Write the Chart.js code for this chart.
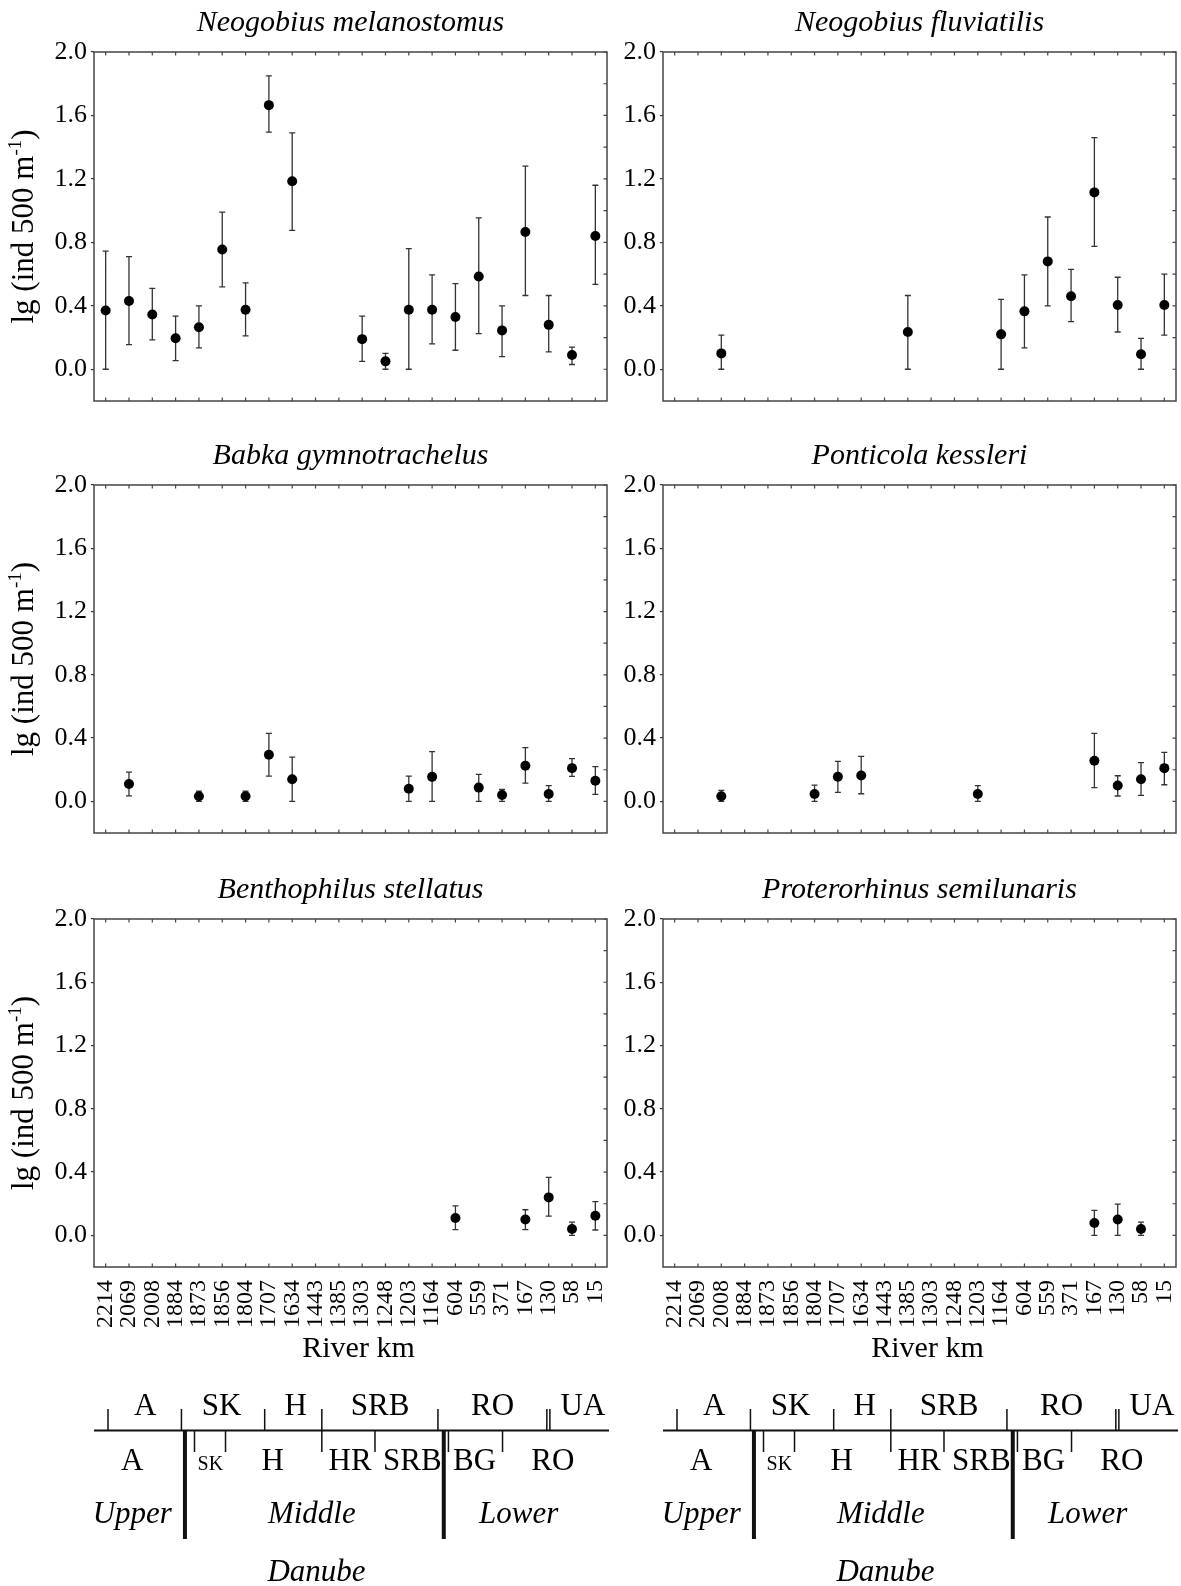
<!DOCTYPE html>
<html>
<head>
<meta charset="utf-8">
<script src="https://cdn.jsdelivr.net/npm/chart.js@4.4.1/dist/chart.umd.min.js"></script>
<style>
html, body { margin: 0; padding: 0; background: #fff; }
#wrap { position: relative; width: 1181px; height: 1586px; }
canvas { position: absolute; }
</style>
</head>
<body>
<div id="wrap">
  <canvas id="c0" width="620" height="430" style="left:0;top:0"></canvas>
  <canvas id="c1" width="561" height="430" style="left:620px;top:0"></canvas>
  <canvas id="c2" width="620" height="430" style="left:0;top:430px"></canvas>
  <canvas id="c3" width="561" height="430" style="left:620px;top:430px"></canvas>
  <canvas id="c4" width="620" height="726" style="left:0;top:860px"></canvas>
  <canvas id="c5" width="561" height="726" style="left:620px;top:860px"></canvas>
</div>
<script>
// ---------- DATA ----------
const riverKm = ["2214", "2069", "2008", "1884", "1873", "1856", "1804", "1707", "1634", "1443", "1385",
                 "1303", "1248", "1203", "1164", "604", "559", "371", "167", "130", "58", "15"];
const yTicks = [0.0, 0.4, 0.8, 1.2, 1.6, 2.0];
const yMinorTicks = [0.0, 0.2, 0.4, 0.6, 0.8, 1.0, 1.2, 1.4, 1.6, 1.8, 2.0];

// Neogobius melanostomus
const nmMean = [0.37, 0.43, 0.345, 0.195, 0.265, 0.755, 0.375, 1.665, 1.185, null, null,
                0.19, 0.05, 0.375, 0.375, 0.33, 0.585, 0.245, 0.865, 0.28, 0.09, 0.84];
const nmLow  = [0.00, 0.155, 0.185, 0.055, 0.135, 0.52, 0.21, 1.495, 0.875, null, null,
                0.05, 0.00, 0.00, 0.16, 0.12, 0.225, 0.08, 0.465, 0.11, 0.03, 0.535];
const nmHigh = [0.745, 0.71, 0.51, 0.335, 0.40, 0.99, 0.545, 1.85, 1.49, null, null,
                0.335, 0.10, 0.76, 0.595, 0.54, 0.955, 0.40, 1.28, 0.465, 0.14, 1.16];

// Neogobius fluviatilis
const nfMean = [null, null, 0.10, null, null, null, null, null, null, null, 0.235,
                null, null, null, 0.22, 0.365, 0.68, 0.46, 1.115, 0.405, 0.095, 0.405];
const nfLow  = [null, null, 0.00, null, null, null, null, null, null, null, 0.00,
                null, null, null, 0.00, 0.135, 0.40, 0.30, 0.775, 0.235, 0.00, 0.215];
const nfHigh = [null, null, 0.215, null, null, null, null, null, null, null, 0.465,
                null, null, null, 0.44, 0.595, 0.96, 0.63, 1.46, 0.58, 0.195, 0.60];

// Babka gymnotrachelus
const bgMean = [null, 0.11, null, null, 0.032, null, 0.032, 0.295, 0.14, null, null,
                null, null, 0.08, 0.155, null, 0.087, 0.04, 0.225, 0.046, 0.21, 0.13];
const bgLow  = [null, 0.035, null, null, 0.00, null, 0.00, 0.16, 0.00, null, null,
                null, null, 0.00, 0.00, null, 0.00, 0.00, 0.115, 0.00, 0.158, 0.044];
const bgHigh = [null, 0.185, null, null, 0.065, null, 0.065, 0.43, 0.28, null, null,
                null, null, 0.16, 0.315, null, 0.17, 0.075, 0.34, 0.10, 0.27, 0.22];

// Ponticola kessleri
const pkMean = [null, null, 0.032, null, null, null, 0.046, 0.156, 0.164, null, null,
                null, null, 0.046, null, null, null, null, 0.257, 0.10, 0.14, 0.21];
const pkLow  = [null, null, 0.00, null, null, null, 0.00, 0.057, 0.048, null, null,
                null, null, 0.00, null, null, null, null, 0.087, 0.034, 0.038, 0.105];
const pkHigh = [null, null, 0.07, null, null, null, 0.103, 0.253, 0.285, null, null,
                null, null, 0.10, null, null, null, null, 0.43, 0.162, 0.245, 0.31];

// Benthophilus stellatus
const bsMean = [null, null, null, null, null, null, null, null, null, null, null,
                null, null, null, null, 0.11, null, null, 0.10, 0.24, 0.04, 0.124];
const bsLow  = [null, null, null, null, null, null, null, null, null, null, null,
                null, null, null, null, 0.036, null, null, 0.036, 0.122, 0.00, 0.034];
const bsHigh = [null, null, null, null, null, null, null, null, null, null, null,
                null, null, null, null, 0.187, null, null, 0.162, 0.366, 0.084, 0.213];

// Proterorhinus semilunaris
const psMean = [null, null, null, null, null, null, null, null, null, null, null,
                null, null, null, null, null, null, null, 0.078, 0.10, 0.04, null];
const psLow  = [null, null, null, null, null, null, null, null, null, null, null,
                null, null, null, null, null, null, null, 0.00, 0.00, 0.00, null];
const psHigh = [null, null, null, null, null, null, null, null, null, null, null,
                null, null, null, null, null, null, null, 0.158, 0.198, 0.084, null];

// ---------- DANUBE STRIP (positions in river-km category units) ----------
const stripTopTicks = [0.10, 3.25, 6.82, 14.25, 18.92, 19.05];
const stripBottomTicks = [3.81, 5.14, 11.55, 14.70, 17.02];
const stripCrossTicks = [9.27];
const stripThick = [3.40, 14.50];
const stripTopLabels = [["A", 1.70], ["SK", 4.97], ["H", 8.15], ["SRB", 11.77], ["RO", 16.59], ["UA", 20.47]];
const stripBottomLabels = [["A", 1.14], ["SK", 4.49], ["H", 7.16], ["HR", 10.48], ["SRB", 13.15], ["BG", 15.82], ["RO", 19.18]];
const stripSections = [["Upper", 1.14], ["Middle", 8.84], ["Lower", 17.71]];

const SERIF = '"Liberation Serif", "Times New Roman", serif';

function drawYLabel(ctx, baseX, cy) {
  const p1 = "lg (ind 500 m", p2 = "-1", p3 = ")";
  const big = "31px " + SERIF, small = "19px " + SERIF;
  ctx.save();
  ctx.translate(baseX, cy);
  ctx.rotate(-Math.PI / 2);
  ctx.fillStyle = "#000";
  ctx.textAlign = "left";
  ctx.textBaseline = "alphabetic";
  ctx.font = big;
  const w1 = ctx.measureText(p1).width, w3 = ctx.measureText(p3).width;
  ctx.font = small;
  const w2 = ctx.measureText(p2).width;
  let x = -(w1 + w2 + w3) / 2;
  ctx.font = big; ctx.fillText(p1, x, 0); x += w1;
  ctx.font = small; ctx.fillText(p2, x, -12); x += w2;
  ctx.font = big; ctx.fillText(p3, x, 0);
  ctx.restore();
}

function drawStrip(ctx, xs, area) {
  const B = area.bottom;
  const px = v => xs.getPixelForValue(v);
  const lineY = B + 163.5;
  ctx.save();
  ctx.strokeStyle = "#111";
  ctx.fillStyle = "#000";
  ctx.lineWidth = 2;
  ctx.beginPath();
  ctx.moveTo(area.left, lineY); ctx.lineTo(area.right + 2, lineY);
  ctx.stroke();
  ctx.lineWidth = 1.5;
  ctx.beginPath();
  stripTopTicks.forEach(v => { ctx.moveTo(px(v), B + 142); ctx.lineTo(px(v), lineY); });
  stripBottomTicks.forEach(v => { ctx.moveTo(px(v), lineY); ctx.lineTo(px(v), B + 185); });
  stripCrossTicks.forEach(v => { ctx.moveTo(px(v), B + 142); ctx.lineTo(px(v), B + 185); });
  ctx.stroke();
  ctx.lineWidth = 4;
  ctx.beginPath();
  stripThick.forEach(v => { ctx.moveTo(px(v), lineY); ctx.lineTo(px(v), B + 272); });
  ctx.stroke();

  ctx.textAlign = "center";
  ctx.textBaseline = "alphabetic";
  ctx.font = "31px " + SERIF;
  stripTopLabels.forEach(([t, v]) => ctx.fillText(t, px(v), B + 148));
  stripBottomLabels.forEach(([t, v]) => {
    ctx.font = (t === "SK" ? "20px " : "31px ") + SERIF;
    ctx.fillText(t, px(v), B + 203);
  });
  ctx.font = "italic 31px " + SERIF;
  stripSections.forEach(([t, v]) => ctx.fillText(t, px(v), B + 256));
  ctx.fillText("Danube", (area.left + area.right) / 2 - 34, B + 314);
  ctx.restore();
}

// error bars, frame, inward ticks and all free text
const panelPlugin = {
  id: "panel",
  beforeDatasetsDraw(chart, args, opts) {
    const { ctx } = chart;
    const ys = chart.scales.y;
    const meta = chart.getDatasetMeta(0);
    ctx.save();
    ctx.strokeStyle = "#333";
    ctx.lineWidth = 1.3;
    ctx.beginPath();
    meta.data.forEach((pt, i) => {
      if (opts.low[i] == null) return;
      const x = pt.x, y1 = ys.getPixelForValue(opts.low[i]), y2 = ys.getPixelForValue(opts.high[i]);
      ctx.moveTo(x, y1); ctx.lineTo(x, y2);
      ctx.moveTo(x - 3, y1); ctx.lineTo(x + 3, y1);
      ctx.moveTo(x - 3, y2); ctx.lineTo(x + 3, y2);
    });
    ctx.stroke();
    ctx.restore();
  },
  afterDraw(chart, args, opts) {
    const { ctx, chartArea: a } = chart;
    const xs = chart.scales.x, ys = chart.scales.y;
    ctx.save();
    ctx.strokeStyle = "#444";
    ctx.lineWidth = 1.5;
    ctx.strokeRect(a.left, a.top, a.right - a.left, a.bottom - a.top);
    ctx.lineWidth = 1.2;
    ctx.beginPath();
    riverKm.forEach((k, i) => {
      const x = xs.getPixelForValue(i);
      ctx.moveTo(x, a.top); ctx.lineTo(x, a.top + 3.5);
      ctx.moveTo(x, a.bottom); ctx.lineTo(x, a.bottom - 3.5);
    });
    yMinorTicks.forEach(v => {
      const y = ys.getPixelForValue(v);
      ctx.moveTo(a.right, y); ctx.lineTo(a.right - 3.5, y);
    });
    ctx.stroke();

    ctx.fillStyle = "#000";
    ctx.textAlign = "center";
    ctx.textBaseline = "alphabetic";
    ctx.font = "italic 30px " + SERIF;
    ctx.fillText(opts.title, (a.left + a.right) / 2, a.top - 21);
    if (opts.yLabel) drawYLabel(ctx, 33, (a.top + a.bottom) / 2);
    if (opts.strip) {
      ctx.font = "30px " + SERIF;
      ctx.fillText("River km", (a.left + a.right) / 2 + 8, a.bottom + 90);
      drawStrip(ctx, xs, a);
    }
    ctx.restore();
  }
};

function makePanel(id, title, mean, low, high, col, row) {
  const yW = col === 0 ? 94 : 43;
  const padR = col === 0 ? 13 : 4;
  const padT = [52, 55, 59][row];
  const xH = [29, 27, 319][row];
  const bottomRow = row === 2;
  new Chart(document.getElementById(id), {
    type: "line",
    data: {
      labels: riverKm,
      datasets: [{
        data: mean,
        showLine: false,
        pointRadius: 5,
        pointHoverRadius: 5,
        pointBackgroundColor: "#000",
        pointBorderColor: "#000",
        pointBorderWidth: 0
      }]
    },
    options: {
      responsive: false,
      animation: false,
      devicePixelRatio: 1,
      layout: { padding: { top: padT, left: 0, right: padR, bottom: 0 } },
      plugins: {
        legend: { display: false },
        tooltip: { enabled: false },
        panel: { title, low, high, yLabel: col === 0, strip: bottomRow }
      },
      scales: {
        x: {
          type: "category",
          offset: true,
          grid: { display: false },
          border: { display: false },
          ticks: {
            display: bottomRow,
            autoSkip: false,
            minRotation: 90,
            maxRotation: 90,
            padding: 5,
            color: "#000",
            font: { family: SERIF, size: 24 }
          },
          afterFit: s => {
            s.height = xH;
            s.paddingLeft = 0;
            s.paddingRight = 0;
          }
        },
        y: {
          type: "linear",
          min: -0.2,
          max: 2.0,
          afterBuildTicks: s => { s.ticks = yTicks.map(v => ({ value: v })); },
          grid: { display: true, drawOnChartArea: false, drawTicks: true, tickLength: 3, color: "#333", lineWidth: 1.2 },
          border: { display: false },
          ticks: {
            padding: 4,
            color: "#000",
            font: { family: SERIF, size: 26 },
            callback: v => Number(v).toFixed(1)
          },
          afterFit: s => {
            s.width = yW;
            s.paddingTop = 0;
            s.paddingBottom = 0;
          }
        }
      }
    },
    plugins: [panelPlugin]
  });
}

makePanel("c0", "Neogobius melanostomus", nmMean, nmLow, nmHigh, 0, 0);
makePanel("c1", "Neogobius fluviatilis", nfMean, nfLow, nfHigh, 1, 0);
makePanel("c2", "Babka gymnotrachelus", bgMean, bgLow, bgHigh, 0, 1);
makePanel("c3", "Ponticola kessleri", pkMean, pkLow, pkHigh, 1, 1);
makePanel("c4", "Benthophilus stellatus", bsMean, bsLow, bsHigh, 0, 2);
makePanel("c5", "Proterorhinus semilunaris", psMean, psLow, psHigh, 1, 2);
</script>
</body>
</html>
